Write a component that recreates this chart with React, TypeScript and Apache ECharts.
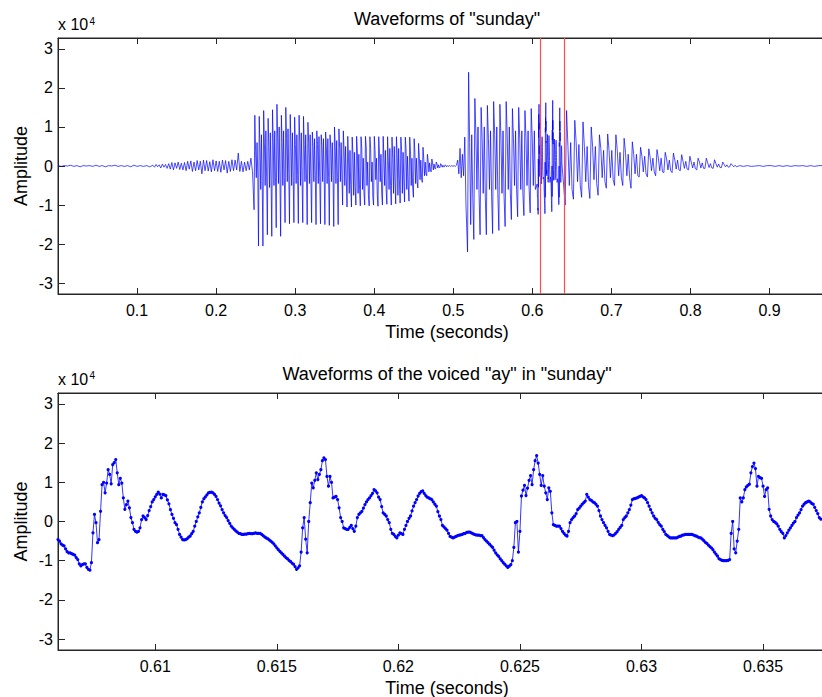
import React, { useEffect, useRef } from "react";
import * as echarts from "echarts";

// ---------------- DATA (amplitudes in units of 10^4) ----------------
// Top waveform, stored as segments: start time (s), step (s)
const leadNoiseStart = 0.0, leadNoiseStep = 0.004;
const leadNoise = [0.01,-0.01,0.01,0.0,0.02,-0.01,0.01,-0.02,0.01,0.0,0.01,-0.01,0.02,-0.01,0.01,-0.02,0.01,0.0,0.02,-0.01,0.01,-0.01,0.01,-0.02,0.02,-0.01,0.01,-0.01,0.01,-0.02];

const fricStart = 0.12, fricStep = 0.002;
const fricativeNoise = [0.02,-0.03,0.04,-0.02,0.03,-0.05,0.05,-0.03,0.04,-0.06,
  0.06,-0.08,0.09,-0.1,0.08,-0.06,0.1,-0.09,0.07,-0.1,
  0.09,-0.12,0.12,-0.08,0.13,-0.14,0.1,-0.12,0.14,-0.1,
  0.12,-0.2,0.15,-0.12,0.14,-0.13,0.11,-0.15,0.16,-0.12,
  0.13,-0.14,0.12,-0.16,0.15,-0.1,0.14,-0.18,0.12,-0.14,
  0.16,-0.12,0.15,-0.1,0.33,-0.14,0.12,-0.15,0.1,-0.12,
  0.12,-0.1,0.2,-0.15];

// "sun": per pitch period -> trough, peak, then secondary high/low oscillations
const sunStart = 0.248, sunStep = 0.000933;
const sunVoiced = [
  -1.12,1.30,0.40,-0.30,0.60,-0.20,  -2.05,1.27,0.50,-0.60,0.80,-0.40,
  -2.05,1.42,0.60,-0.50,0.90,-0.30,  -1.76,1.22,0.50,-0.55,0.85,-0.35,
  -1.80,1.44,0.60,-0.50,0.90,-0.30,  -1.58,1.58,0.70,-0.45,1.00,-0.25,
  -1.80,1.30,0.60,-0.50,0.90,-0.30,  -1.45,1.50,0.70,-0.40,0.95,-0.20,
  -1.48,1.32,0.60,-0.50,0.85,-0.30,  -1.45,1.25,0.55,-0.45,0.80,-0.25,
  -1.47,1.30,0.60,-0.50,0.85,-0.30,  -1.45,1.27,0.55,-0.40,0.80,-0.20,
  -1.50,1.12,0.60,-0.45,0.80,-0.30,  -1.45,0.87,0.50,-0.40,0.70,-0.25,
  -1.50,0.90,0.55,-0.45,0.75,-0.30,  -1.48,0.80,0.50,-0.40,0.70,-0.20,
  -1.50,0.87,0.50,-0.45,0.70,-0.30,  -1.52,0.80,0.45,-0.40,0.60,-0.25,
  -1.55,1.00,0.50,-0.45,0.65,-0.30,  -1.50,0.95,0.45,-0.40,0.60,-0.20,
  -1.00,0.90,0.40,-0.50,0.50,-0.30,  -1.05,0.76,0.20,-0.70,0.40,-0.50,
  -1.05,0.74,0.30,-0.75,0.35,-0.55,  -1.00,0.76,0.40,-0.70,0.30,-0.60,
  -1.02,0.75,0.45,-0.60,0.20,-0.70,  -1.00,0.76,0.50,-0.50,0.10,-0.75,
  -1.02,0.75,0.45,-0.40,0.10,-0.80,  -1.00,0.76,0.40,-0.35,0.20,-0.75,
  -1.03,0.75,0.30,-0.40,0.30,-0.70,  -1.00,0.76,0.20,-0.50,0.40,-0.60,
  -0.98,0.75,0.15,-0.60,0.45,-0.50,  -1.00,0.74,0.20,-0.70,0.50,-0.40,
  -0.97,0.75,0.30,-0.75,0.45,-0.35,  -0.95,0.74,0.40,-0.70,0.35,-0.40,
  -0.92,0.74,0.45,-0.60,0.25,-0.50,  -0.90,0.74,0.40,-0.50,0.20,-0.55,
  -0.80,0.70,0.35,-0.45,0.20,-0.40,  -0.56,0.58,0.25,-0.35,0.15,-0.30,
  -0.42,0.48,0.20,-0.25,0.10,-0.20,  -0.25,0.30,0.12,-0.15,0.08,-0.10,
  -0.15,0.18,0.08,-0.10,0.05,-0.06,  -0.08,0.10,0.05,-0.05,0.03,-0.04,
  -0.04,0.06,0.03,-0.03,0.02,-0.02,  -0.02,0.03,0.01,-0.02,0.01,-0.01];

const gapStart = 0.495, gapStep = 0.0015;
const gapOnset = [0.01,-0.01,0.01,-0.01,0.01,-0.01,0.02,0.15,-0.2,0.45,-0.3,0.3,-0.25,0.74,-1.0];

// "day" before the zoomed window: trough, peak, secondary high/low oscillations
const dayAStart = 0.518, dayAStep = 0.00132;
const dayVoicedA = [
  -2.20,2.40,0.60,-1.50,0.80,-0.80,  -1.88,1.73,0.80,-0.60,1.00,-0.70,
  -1.76,1.50,0.70,-0.70,1.00,-0.80,  -1.76,1.55,0.70,-0.60,0.90,-0.70,
  -1.73,1.65,0.80,-0.60,1.00,-0.70,  -1.65,1.58,0.70,-0.70,0.90,-0.80,
  -1.55,1.65,0.80,-0.60,1.00,-0.70,  -1.37,1.47,0.70,-0.50,0.90,-0.60,
  -1.30,1.50,0.70,-0.60,0.90,-0.70,  -1.27,1.42,0.70,-0.50,0.90,-0.60,
  -1.20,1.47,0.70,-0.50,0.90,-0.60];

// Voiced "ay" window, 16 kHz samples from 0.606 s (bottom plot, also used in the top plot)
const ayStart = 0.606, ayRate = 16000;
const ayPeriod1 = [
  -0.46,-0.5,-0.57,-0.6,-0.62,-0.7,-0.77,-0.8,-0.8,-0.82,
  -0.84,-0.86,-0.92,-0.97,-1.08,-1.13,-1.1,-1.08,-1.08,-1.17,
  -1.22,-1.24,-1.05,-0.29,0.18,-0.03,-0.54,-0.46,0.26,0.94,
  1.0,0.73,0.98,1.32,1.2,0.96,1.45,1.5,1.58,1.24,
  0.94,1.1,0.98,0.6,0.31,0.43,0.52,0.35,0.1,-0.03,
  -0.2,-0.25,-0.27,-0.25,-0.16,0.05,0.14,0.1,0.05,0.15,
  0.28,0.38,0.5,0.56,0.63,0.69,0.75,0.7,0.6,0.69,
  0.68,0.66,0.55,0.45,0.3,0.18,0.08,-0.03,-0.08,-0.2,
  -0.33,-0.4,-0.46,-0.47,-0.46,-0.44,-0.4,-0.37,-0.31,-0.25,
  -0.12,0.0,0.12,0.22,0.36,0.5,0.58,0.63,0.68,0.73,
  0.74,0.75,0.73,0.69,0.64,0.56,0.47,0.4,0.3,0.22,
  0.15,0.1,0.02,-0.05,-0.12,-0.16,-0.2,-0.24,-0.27,-0.3,
  -0.31,-0.33,-0.33,-0.32,-0.32,-0.31];
const ayPeriod2 = [
  -0.3,-0.31,-0.31,-0.3,
  -0.29,-0.3,-0.3,-0.3,-0.33,-0.36,-0.39,-0.42,-0.44,-0.47,
  -0.5,-0.53,-0.57,-0.62,-0.67,-0.72,-0.76,-0.8,-0.84,-0.88,
  -0.92,-0.95,-0.99,-1.02,-1.06,-1.09,-1.15,-1.22,-1.18,-1.13,
  -0.78,-0.16,0.1,-0.45,-0.8,0.0,0.48,0.98,0.86,1.05,
  1.24,1.07,1.2,1.32,1.55,1.62,1.58,1.15,0.9,1.15,
  1.0,0.6,0.62,0.64,0.56,0.35,0.1,0.0,-0.16,-0.18,
  -0.2,-0.2,-0.15,-0.1,-0.18,-0.25,-0.12,0.1,0.18,0.22,
  0.26,0.34,0.43,0.5,0.56,0.6,0.66,0.72,0.81,0.78,
  0.73,0.62,0.56,0.38,0.22,0.18,0.14,0.05,-0.03,-0.2,
  -0.3,-0.33,-0.38,-0.42,-0.35,-0.29,-0.31,-0.33,-0.2,-0.1,
  0.0,0.08,0.14,0.27,0.39,0.48,0.56,0.65,0.72,0.76,
  0.78,0.72,0.66,0.62,0.6,0.58,0.56,0.5,0.44,0.39,
  0.25,0.14];
const ayPeriod3 = [
  0.05,-0.1,-0.14,-0.18,-0.22,-0.3,-0.38,-0.4,
  -0.42,-0.4,-0.38,-0.36,-0.35,-0.34,-0.33,-0.31,-0.3,-0.28,
  -0.27,-0.27,-0.29,-0.31,-0.33,-0.34,-0.35,-0.35,-0.36,-0.36,
  -0.41,-0.46,-0.5,-0.54,-0.58,-0.62,-0.66,-0.73,-0.8,-0.85,
  -0.89,-0.95,-1.0,-1.05,-1.09,-1.13,-1.17,-1.14,-1.1,-1.0,
  -0.66,-0.03,0.0,-0.78,-0.25,0.65,0.8,0.92,0.66,0.85,
  1.05,1.17,0.94,1.32,1.55,1.68,1.49,1.2,0.92,1.17,
  0.9,0.73,0.56,0.86,0.77,0.22,-0.08,-0.1,-0.12,-0.12,
  -0.12,-0.18,-0.25,-0.3,-0.35,-0.37,-0.25,-0.03,0.05,0.1,
  0.14,0.2,0.3,0.34,0.39,0.44,0.48,0.52,0.69,0.62,
  0.56,0.54,0.5,0.48,0.44,0.39,0.28,0.14,0.05,-0.03,
  -0.1,-0.16,-0.25,-0.33,-0.35,-0.36,-0.34,-0.3,-0.26,-0.2,
  -0.15,-0.1,0.05,0.1,0.14,0.22,0.3,0.42];
const ayPeriod4 = [
  0.56,0.58,
  0.59,0.6,0.62,0.64,0.66,0.63,0.6,0.56,0.48,0.39,
  0.3,0.22,0.14,0.08,0.05,-0.02,-0.08,-0.12,-0.2,-0.26,
  -0.33,-0.36,-0.39,-0.42,-0.42,-0.42,-0.42,-0.42,-0.4,-0.38,
  -0.37,-0.35,-0.34,-0.33,-0.33,-0.33,-0.33,-0.33,-0.34,-0.36,
  -0.37,-0.39,-0.41,-0.42,-0.45,-0.49,-0.53,-0.56,-0.6,-0.64,
  -0.67,-0.72,-0.78,-0.83,-0.88,-0.95,-0.97,-0.99,-1.0,-1.0,
  -1.0,-0.99,-0.97,-0.3,0.0,-0.7,-0.8,-0.5,-0.2,0.6,
  0.5,0.6,0.81,0.88,0.92,0.95,1.24,1.4,1.49,1.35,
  0.9,1.15,1.12,1.1,0.9,0.64,0.81,0.86,0.31,0.14,
  0.05,0.0,-0.02,-0.06,-0.12,-0.2,-0.26,-0.3,-0.42,-0.36,
  -0.29,-0.22,-0.16,-0.1,-0.04,0.0,0.1,0.16,0.22,0.3,
  0.39,0.44,0.48,0.5,0.52,0.5,0.46,0.44,0.36,0.28,
  0.2,0.1,0.06];

// "day" after the zoomed window: trough, peak, secondary high/low oscillations
const dayBStart = 0.6415, dayBStep = 0.001733;
const dayVoicedB = [
  -1.00,1.42,0.50,-0.50,0.60,-0.60,  -0.85,1.17,0.60,-0.40,0.55,-0.50,
  -0.80,1.13,0.50,-0.40,0.50,-0.50,  -0.83,1.00,0.50,-0.35,0.50,-0.45,
  -0.75,0.80,0.45,-0.30,0.40,-0.40,  -0.57,0.82,0.40,-0.30,0.40,-0.35,
  -0.50,0.80,0.40,-0.25,0.35,-0.30,  -0.50,0.71,0.35,-0.25,0.30,-0.30,
  -0.57,0.62,0.30,-0.20,0.30,-0.25,  -0.28,0.48,0.25,-0.15,0.25,-0.20,
  -0.28,0.44,0.22,-0.12,0.20,-0.15,  -0.25,0.42,0.20,-0.12,0.20,-0.15,
  -0.17,0.35,0.18,-0.10,0.15,-0.12,  -0.17,0.33,0.15,-0.08,0.15,-0.10,
  -0.12,0.29,0.12,-0.06,0.12,-0.08,  -0.10,0.25,0.10,-0.05,0.10,-0.07,
  -0.10,0.20,0.10,-0.05,0.08,-0.06,  -0.06,0.20,0.08,-0.04,0.06,-0.05,
  -0.06,0.16,0.06,-0.03,0.05,-0.04,  -0.04,0.10,0.04,-0.02,0.03,-0.03,
  -0.02,0.06,0.02,-0.02,0.02,-0.02];

const tailStart = 0.862, tailStep = 0.005;
const tailNoise = [0.01,-0.01,0.01,-0.01,0.0,0.01,-0.01,0.01,0.01,-0.01,0.01,-0.01,0.01,-0.01,0.01,0.0,0.01,-0.01,0.01,-0.01,0.01,0.01,-0.01,0.01,0.0,0.01];

// Axes
const topXRange = [0, 0.984];
const bottomXRange = [0.606, 0.638];
const yRange = [-3.2768, 3.2768];
const topXTicks = [0.1, 0.2, 0.3, 0.4, 0.5, 0.6, 0.7, 0.8, 0.9];
const bottomXTicks = [0.61, 0.615, 0.62, 0.625, 0.63, 0.635];
const yTicks = [-3, -2, -1, 0, 1, 2, 3];
const windowMarks = [0.606, 0.638];

const topTitle = 'Waveforms of "sunday"';
const bottomTitle = 'Waveforms of the voiced "ay" in "sunday"';
const xName = "Time (seconds)";
const yName = "Amplitude";

// ---------------- helpers ----------------
function seg(t0: number, dt: number, vals: number[]): [number, number][] {
  return vals.map((v, i) => [+(t0 + i * dt).toFixed(7), v] as [number, number]);
}

const ayValues = [...ayPeriod1, ...ayPeriod2, ...ayPeriod3, ...ayPeriod4];
const ayData = seg(ayStart, 1 / ayRate, ayValues);

const topData = [
  ...seg(leadNoiseStart, leadNoiseStep, leadNoise),
  ...seg(fricStart, fricStep, fricativeNoise),
  ...seg(sunStart, sunStep, sunVoiced),
  ...seg(gapStart, gapStep, gapOnset),
  ...seg(dayAStart, dayAStep, dayVoicedA),
  ...ayData,
  ...seg(dayBStart, dayBStep, dayVoicedB),
  ...seg(tailStart, tailStep, tailNoise),
];

const FONT = "'Liberation Sans', Arial, Helvetica, sans-serif";
const AXIS = "#262626";
const TEXT = "#000000";
const fmt = (v: number) => String(parseFloat(Number(v).toFixed(4)));

function xAxisPair(gridIndex: number, range: number[], ticks: number[]) {
  const common = {
    type: "value",
    gridIndex,
    min: range[0],
    max: range[1],
    splitLine: { show: false },
    axisLine: { show: true, onZero: false, lineStyle: { color: AXIS, width: 1 } },
  };
  return [
    {
      ...common,
      position: "bottom",
      axisTick: { show: true, inside: true, length: 6, customValues: ticks, lineStyle: { color: AXIS } },
      axisLabel: { show: true, customValues: ticks, margin: 8, fontSize: 16, fontFamily: FONT, color: TEXT, formatter: fmt },
      name: xName,
      nameLocation: "middle",
      nameGap: 29,
      nameMoveOverlap: false,
      nameTextStyle: { fontSize: 18, fontFamily: FONT, color: TEXT },
    },
    {
      ...common,
      position: "top",
      axisTick: { show: true, inside: true, length: 6, customValues: ticks, lineStyle: { color: AXIS } },
      axisLabel: { show: false },
    },
  ];
}

function yAxisFor(gridIndex: number) {
  return {
    type: "value",
    gridIndex,
    min: yRange[0],
    max: yRange[1],
    position: "left",
    splitLine: { show: false },
    axisLine: { show: true, onZero: false, lineStyle: { color: AXIS, width: 1 } },
    axisTick: { show: true, inside: true, length: 7, customValues: yTicks, lineStyle: { color: AXIS } },
    axisLabel: { show: true, customValues: yTicks, margin: 5, fontSize: 16, fontFamily: FONT, color: TEXT, formatter: fmt },
    name: yName,
    nameLocation: "middle",
    nameGap: 28,
    nameMoveOverlap: false,
    nameTextStyle: { fontSize: 18, fontFamily: FONT, color: TEXT },
  };
}

function txt(x: number, y: number, text: string, size: number, align = "left") {
  return {
    type: "text",
    x,
    y,
    silent: true,
    style: {
      text,
      fontSize: size,
      fontFamily: FONT,
      fill: TEXT,
      align,
      verticalAlign: "middle",
      textAlign: align,
      textVerticalAlign: "middle",
    },
  };
}

export default function App() {
  const ref = useRef<HTMLDivElement>(null);
  useEffect(() => {
    if (!ref.current) return;
    const chart = echarts.init(ref.current, null, { renderer: "svg" });
    const gridCommon = {
      left: 58,
      width: 778,
      show: true,
      borderColor: AXIS,
      borderWidth: 1,
      backgroundColor: "#ffffff",
      containLabel: false,
      outerBoundsMode: "none",
    };
    chart.setOption({
      animation: false,
      backgroundColor: "#ffffff",
      grid: [
        { ...gridCommon, top: 38, height: 256 },
        { ...gridCommon, top: 393, height: 257 },
      ],
      xAxis: [...xAxisPair(0, topXRange, topXTicks), ...xAxisPair(1, bottomXRange, bottomXTicks)],
      yAxis: [yAxisFor(0), yAxisFor(1)],
      graphic: [
        txt(447, 19.3, topTitle, 18, "center"),
        txt(447, 373.5, bottomTitle, 18, "center"),
        txt(58, 24.5, "x 10", 16),
        txt(89.5, 21, "4", 10),
        txt(58, 379.7, "x 10", 16),
        txt(89.5, 375.5, "4", 10),
      ],
      series: [
        {
          type: "line",
          xAxisIndex: 0,
          yAxisIndex: 0,
          data: topData,
          showSymbol: false,
          symbol: "none",
          silent: true,
          lineStyle: { color: "#0000ff", width: 0.7 },
          markLine: {
            silent: true,
            symbol: ["none", "none"],
            label: { show: false },
            lineStyle: { color: "#ff4d4d", width: 1.2, type: "solid" },
            data: windowMarks.map((t) => ({ xAxis: t })),
          },
        },
        {
          type: "line",
          xAxisIndex: 2,
          yAxisIndex: 1,
          data: ayData,
          symbol: "circle",
          symbolSize: 3.2,
          showSymbol: true,
          showAllSymbol: true,
          silent: true,
          itemStyle: { color: "#0000ff" },
          lineStyle: { color: "#0000ff", width: 0.8 },
        },
      ],
    });
    return () => chart.dispose();
  }, []);
  return (
    <div style={{ position: "fixed", left: 0, top: 0, width: 822, height: 697, overflow: "hidden", background: "#fff" }}>
      <div ref={ref} style={{ width: 840, height: 697 }} />
    </div>
  );
}
